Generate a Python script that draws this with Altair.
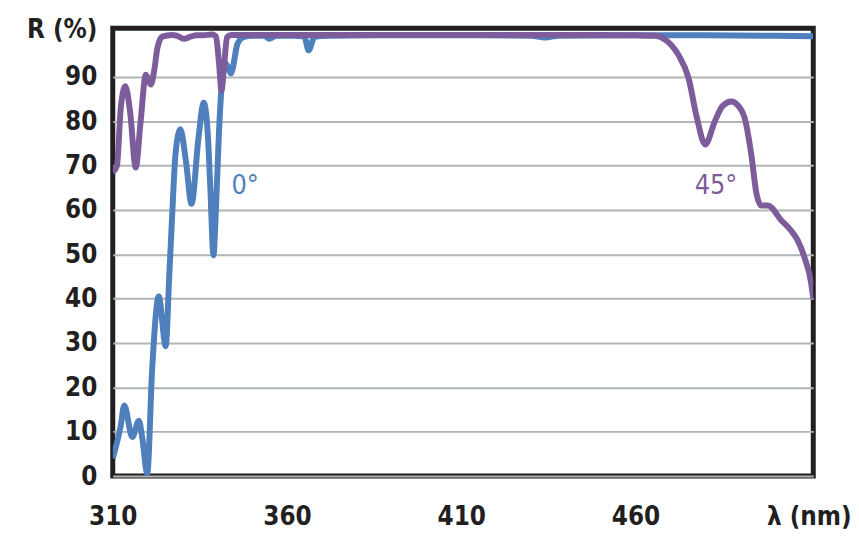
import altair as alt
import pandas as pd

# 0° incidence (blue)
wl_0 = [310, 312.3, 313.3, 315.6, 317.5, 318.5, 319.9, 321.3, 323.2, 325.2, 326.2, 327.0, 328.0,
        329.4, 331.0, 332.6, 334.6, 336.1, 337.2, 338.0, 338.9, 339.6, 340.5, 341.5, 342.5,
        343.9, 345.8, 347.5, 350, 353.6, 354.9, 357, 362, 365, 366.2, 367.9, 372, 390, 410,
        430, 434, 438, 460, 480, 500, 511]
r_0 = [4, 11.4, 15.9, 8.8, 12.5, 8.4, 0.6, 24, 40.5, 29.3, 45, 58, 72.6,
       78.2, 71, 61.4, 76.3, 84.2, 78, 65, 49.8, 60, 78, 90, 93,
       90.8, 97.5, 99, 99.3, 99.3, 98.6, 99.3, 99.3, 99.1, 96, 99.1, 99.3, 99.4, 99.4,
       99.3, 98.9, 99.3, 99.4, 99.4, 99.3, 99.2]

# 45° incidence (purple)
wl_45 = [310, 311.2, 312.3, 313.6, 315, 316.6, 318, 319.5, 320.9, 322, 322.8, 324.2, 327,
         328.5, 330.4, 332.3, 334, 336, 338.4, 339.6, 340.5, 341.2, 341.9, 342.8, 344, 350,
         380, 420, 450, 460, 465.7, 468.6, 472.3, 475.2, 477.6, 480, 482.8, 485, 487.5,
         489.5, 491.3, 493.2, 494.7, 496.1, 498, 501.8, 504.5, 506.5, 508.4, 510.4, 511]
r_45 = [68.5, 70, 83, 87.9, 82, 69.6, 80, 90.5, 88.3, 92, 96.5, 99.1, 99.5,
        99.3, 98.6, 99.1, 99.4, 99.4, 99.6, 99.2, 93, 87, 92, 99, 99.5, 99.5,
        99.5, 99.5, 99.5, 99.4, 99.3, 98.4, 95, 89.8, 80.8, 74.8, 80.1, 83.5, 84.5,
        83.5, 80.8, 72.6, 63.7, 61, 61, 57.7, 55.5, 53.2, 49.5, 43.5, 40]

series_names = ["0°", "45°"]
series_colors = ["#4f7fbc", "#7d5c9c"]

label_x = [348, 483.1]
label_y = [65.5, 65.5]

x_ticks = [310, 360, 410, 460]
y_ticks = [0, 10, 20, 30, 40, 50, 60, 70, 80, 90]

FONT = "DejaVu Sans Condensed, Liberation Sans Narrow, Roboto, sans-serif"
TXT = "#231f20"
FS = 26

df = pd.concat([
    pd.DataFrame({"wl": wl_0, "r": r_0, "s": series_names[0], "o": 0}),
    pd.DataFrame({"wl": wl_45, "r": r_45, "s": series_names[1], "o": 1}),
])
lab = pd.DataFrame({"wl": label_x, "r": label_y, "s": series_names})

xscale = alt.Scale(domain=[310, 511], nice=False, zero=False)
yscale = alt.Scale(domain=[0, 101], nice=False)
cscale = alt.Scale(domain=series_names, range=series_colors)

xaxis = alt.Axis(values=x_ticks, grid=False, ticks=False, domain=False, labelFlush=False,
                 labelOverlap=False, labelFont=FONT, labelFontSize=FS, labelFontWeight="bold",
                 labelColor=TXT, labelPadding=28, title="λ (nm)", titleFont=FONT,
                 titleFontSize=FS, titleFontWeight="bold", titleColor=TXT, titleX=701,
                 titleY=28, titleAlign="center", titleBaseline="top")
yaxis = alt.Axis(values=y_ticks, grid=True, gridColor="#b1b5b5", gridWidth=2, ticks=False,
                 domain=False, labelOverlap=False, labelFont=FONT, labelFontSize=FS,
                 labelFontWeight="bold", labelColor=TXT, labelPadding=16, title="R (%)",
                 titleFont=FONT, titleFontSize=FS, titleFontWeight="bold", titleColor=TXT,
                 titleAngle=0, titleAlign="right", titleBaseline="middle", titleX=-16, titleY=1)

lines = alt.Chart(df).mark_line(strokeWidth=6, interpolate="monotone", clip=True).encode(
    x=alt.X("wl:Q", scale=xscale, axis=xaxis),
    y=alt.Y("r:Q", scale=yscale, axis=yaxis),
    color=alt.Color("s:N", scale=cscale, legend=None),
    detail="s:N",
    order="o:Q",
)

labels = alt.Chart(lab).mark_text(font=FONT, fontSize=27, baseline="middle", align="center").encode(
    x=alt.X("wl:Q", scale=xscale),
    y=alt.Y("r:Q", scale=yscale),
    text="s:N",
    color=alt.Color("s:N", scale=cscale, legend=None),
)

chart = alt.layer(lines, labels).properties(
    width=705.5, height=451,
    autosize=alt.AutoSizeParams(type="none"),
    padding={"left": 105.5, "top": 18.5, "right": 38, "bottom": 62},
    background="white",
).configure_view(stroke=TXT, strokeWidth=5)

chart.save("out.html", embed_options={"renderer": "svg", "actions": False})
